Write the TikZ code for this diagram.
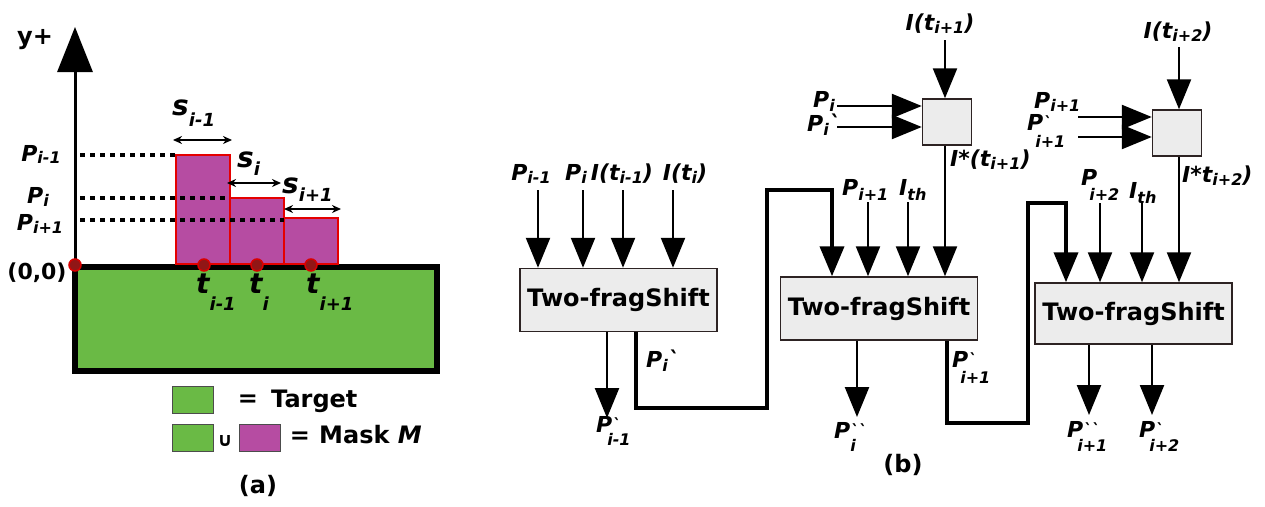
\documentclass[tikz,border=0pt]{standalone}
\usepackage{fontspec}
\setmainfont{DejaVu Sans}
\usetikzlibrary{arrows.meta}
\definecolor{tgreen}{RGB}{106,186,69}
\definecolor{mmag}{RGB}{182,76,162}
\definecolor{dred}{RGB}{145,22,22}
\definecolor{bgray}{RGB}{236,236,236}
\definecolor{bdr}{RGB}{45,35,35}
\newcommand\lf{\fontsize{22}{24}\selectfont\bfseries\itshape}
\newcommand\uf{\fontsize{24}{26}\selectfont\bfseries}
\newcommand\bigf{\fontsize{28}{30}\selectfont\bfseries\itshape}
\newcommand\lsub[2][4pt]{\raisebox{-#1}{\fontsize{16}{16}\selectfont #2}}
\newcommand\bsub[2][4pt]{\raisebox{-#1}{\fontsize{18}{18}\selectfont #2}}
\newcommand\gv{\symbol{"02CB}}
\newcommand\grv[2][2pt]{\rlap{\raisebox{#1}{\fontsize{16}{16}\selectfont #2}}}
\begin{document}
\begin{tikzpicture}[x=1pt,y=-1pt,
  lab/.style={font=\lf, inner sep=0, anchor=base},
  labw/.style={font=\lf, inner sep=0, anchor=base west},
  ulab/.style={font=\uf, inner sep=0, anchor=base},
  biglab/.style={font=\bigf, inner sep=0, anchor=base west},
  blk/.style={draw=bdr, line width=1.5, fill=bgray, minimum width=197, minimum height=63, inner sep=0, font=\uf},
  sbox/.style={draw=bdr, line width=1.5, fill=bgray, minimum width=49, minimum height=46, inner sep=0},
  inarr/.style={line width=2.4, -{Triangle[length=30pt,width=24pt]}},
  wire/.style={line width=4, line join=miter, -{Triangle[length=30pt,width=24pt]}},
  dots/.style={line width=4, dash pattern=on 5pt off 5pt},
  sarr/.style={line width=1.5, {Stealth[length=9pt,width=8pt]}-{Stealth[length=9pt,width=8pt]}},
  rdot/.style={circle, fill=dred, draw=red!85!black, line width=1.5, minimum size=12, inner sep=0},
  bar/.style={fill=mmag, draw=red!90!black, line width=1.5},
  leg/.style={draw=black!70, line width=1, inner sep=0}
]
\path[use as bounding box] (0,0) rectangle (1265,506);

% ---------------- (a) ----------------
\draw[line width=6, fill=tgreen] (75,267) rectangle (437,371);
\coordinate (orig) at (75,266);
\coordinate (ytop) at (75,27);
\draw[line width=3, -{Triangle[length=45pt,width=35pt]}] (orig) -- (ytop);
\node[ulab] (ylab) at (35,44) {y+};

\draw[bar] (176,155) rectangle (230,264);
\draw[bar] (230,198) rectangle (284,264);
\draw[bar] (284,218) rectangle (338,264);

\draw[dots] (80,155) -- (176,155);
\draw[dots] (80,198) -- (228,198);
\draw[dots] (80,220) -- (284,220);

\node[rdot] (d0) at (75,265) {};
\node[rdot] (d1) at (204,265) {};
\node[rdot] (d2) at (257,265) {};
\node[rdot] (d3) at (311,265) {};

\node[font=\fontsize{22}{24}\selectfont\bfseries, inner sep=0, anchor=base] (oo) at (37,279) {(0,0)};
\node[lab] (pa1) at (41,161) {P\lsub[2pt]{i-1}};
\node[lab] (pa2) at (38,203) {P\lsub[3pt]{i}};
\node[lab] (pa3) at (40,230) {P\lsub[3pt]{i+1}};

\node[biglab] (s1l) at (172,115) {s\bsub[11pt]{i-1}};
\node[biglab] (s2l) at (237,167) {s\bsub[8pt]{i}};
\node[biglab] (s3l) at (282,193) {s\bsub[8pt]{i+1}};
\coordinate (sa1) at (173,140); \coordinate (sb1) at (232,140);
\coordinate (sa2) at (227,183); \coordinate (sb2) at (281,183);
\coordinate (sa3) at (284,209); \coordinate (sb3) at (341,209);
\draw[sarr] (sa1) -- (sb1);
\draw[sarr] (sa2) -- (sb2);
\draw[sarr] (sa3) -- (sb3);

\node[biglab] (t1l) at (196,293) {t\bsub[17pt]{i-1}};
\node[biglab] (t2l) at (249,293) {t\bsub[17pt]{i}};
\node[biglab] (t3l) at (306,293) {t\bsub[17pt]{i+1}};

% legend
\draw[leg, fill=tgreen] (172,386) rectangle (213,413);
\draw[leg, fill=tgreen] (172,424) rectangle (213,451);
\draw[leg, fill=mmag] (239,424) rectangle (280,451);
\node[font=\fontsize{19}{19}\selectfont\bfseries, inner sep=0, anchor=base] (cup) at (225,446) {∪};
\node[ulab] (eq1) at (248,406) {=};
\node[ulab, anchor=base west] (tg) at (271,407) {Target};
\node[ulab] (eq2) at (300,443) {=};
\node[ulab, anchor=base west] (mk) at (319,443) {Mask \textit{M}};
\node[ulab] (alab) at (258,493) {(a)};

% ---------------- (b) ----------------
\node[blk] (b1) at (618.5,300) {Two-fragShift};
\node[blk, minimum height=63] (b2) at (879,308.5) {Two-fragShift};
\node[blk, minimum height=61] (b3) at (1133.5,313.5) {Two-fragShift};
\node[sbox] (s1) at (947,122) {};
\node[sbox] (s2) at (1177,133) {};

% block 1 inputs
\coordinate (i11) at (538,190); \coordinate (i12) at (583,190);
\coordinate (i13) at (623,190); \coordinate (i14) at (673,190);
\foreach \c in {i11,i12,i13,i14} \draw[inarr] (\c) -- (\c |- b1.north);
\node[lab] (l11) at (531,180) {P\lsub[3pt]{i-1}};
\node[lab] (l12) at (576,180) {P\lsub[3pt]{i}};
\node[lab] (l13) at (622,180) {I(t\lsub[3pt]{i-1})};
\node[lab] (l14) at (685,180) {I(t\lsub[3pt]{i})};

% block 1 output
\coordinate (o1) at (607,418);
\draw[inarr] (o1 |- b1.south) -- (o1);
\node[labw] (lo1) at (596,432) {P\grv{\gv}\hspace*{-5pt}\lsub[13pt]{i-1}};

% wire 1
\coordinate (w1a) at (636,408); \coordinate (w1b) at (767,408);
\coordinate (w1c) at (767,190); \coordinate (w1d) at (832,190);
\draw[wire] (w1a |- b1.south) -- (w1a) -- (w1b) -- (w1c) -- (w1d) -- (w1d |- b2.north);
\node[labw] (lw1) at (646,367) {P\lsub[4pt]{i}\gv};

% block 2 inputs
\coordinate (i22) at (868,202); \coordinate (i23) at (908,202);
\draw[inarr] (i22) -- (i22 |- b2.north);
\draw[inarr] (i23) -- (i23 |- b2.north);
\node[labw] (l22) at (842,195) {P\lsub[5pt]{i+1}};
\node[labw] (l23) at (899,195) {I\lsub[5pt]{th}};

% small box 1
\coordinate (s1x) at (945,0);
\coordinate (s1t) at (945,40);
\draw[inarr] (s1t) -- (s1t |- s1.north);
\draw[inarr] (s1x |- s1.south) -- (s1x |- b2.north);
\node[lab] (ls1t) at (940,30) {I(t\lsub[3pt]{i+1})};
\coordinate (s1a) at (837,106); \coordinate (s1b) at (837,127);
\draw[inarr] (s1a) -- (s1a -| s1.west);
\draw[inarr] (s1b) -- (s1b -| s1.west);
\node[lab] (ls1a) at (824,107) {P\lsub[4pt]{i}};
\node[labw] (ls1b) at (807,131) {P\lsub[4pt]{i}\gv};
\node[labw] (ls1o) at (950,166) {I*(t\lsub[3pt]{i+1})};

% block 2 output
\coordinate (o2) at (857,417);
\draw[inarr] (o2 |- b2.south) -- (o2);
\node[labw] (lo2) at (834,438) {P\grv{\gv\gv}\lsub[13pt]{i}};

% wire 2
\coordinate (w2a) at (947,423); \coordinate (w2b) at (1028,423);
\coordinate (w2c) at (1028,203); \coordinate (w2d) at (1066,203);
\draw[wire] (w2a |- b2.south) -- (w2a) -- (w2b) -- (w2c) -- (w2d) -- (w2d |- b3.north);
\node[labw] (lw2) at (952,367) {P\grv{\gv}\hspace*{-8pt}\lsub[16pt]{i+1}};

% block 3 inputs
\coordinate (i32) at (1100,203); \coordinate (i33) at (1142,203);
\draw[inarr] (i32) -- (i32 |- b3.north);
\draw[inarr] (i33) -- (i33 |- b3.north);
\node[labw] (l32) at (1081,185) {P\hspace*{-8pt}\lsub[15pt]{i+2}};
\node[labw] (l33) at (1129,198) {I\lsub[5pt]{th}};

% small box 2
\coordinate (s2x) at (1179,0);
\coordinate (s2t) at (1179,47);
\draw[inarr] (s2t) -- (s2t |- s2.north);
\draw[inarr] (s2x |- s2.south) -- (s2x |- b3.north);
\node[lab] (ls2t) at (1178,38) {I(t\lsub[3pt]{i+2})};
\coordinate (s2a) at (1078,117); \coordinate (s2b) at (1078,137);
\draw[inarr] (s2a) -- (s2a -| s2.west);
\draw[inarr] (s2b) -- (s2b -| s2.west);
\node[labw] (ls2a) at (1034,108) {P\lsub[3pt]{i+1}};
\node[labw] (ls2b) at (1027,130) {P\grv{\gv}\hspace*{-8pt}\lsub[17pt]{i+1}};
\node[labw] (ls2o) at (1182,182) {I*t\lsub[3pt]{i+2})};

% block 3 outputs
\coordinate (o31) at (1089,415); \coordinate (o32) at (1152,415);
\draw[inarr] (o31 |- b3.south) -- (o31);
\draw[inarr] (o32 |- b3.south) -- (o32);
\node[labw] (lo31) at (1067,437) {P\grv{\gv\gv}\hspace*{-6pt}\lsub[14pt]{i+1}};
\node[labw] (lo32) at (1139,437) {P\grv{\gv}\hspace*{-6pt}\lsub[14pt]{i+2}};

\node[ulab] (blab) at (903,472) {(b)};
\end{tikzpicture}
\end{document}
